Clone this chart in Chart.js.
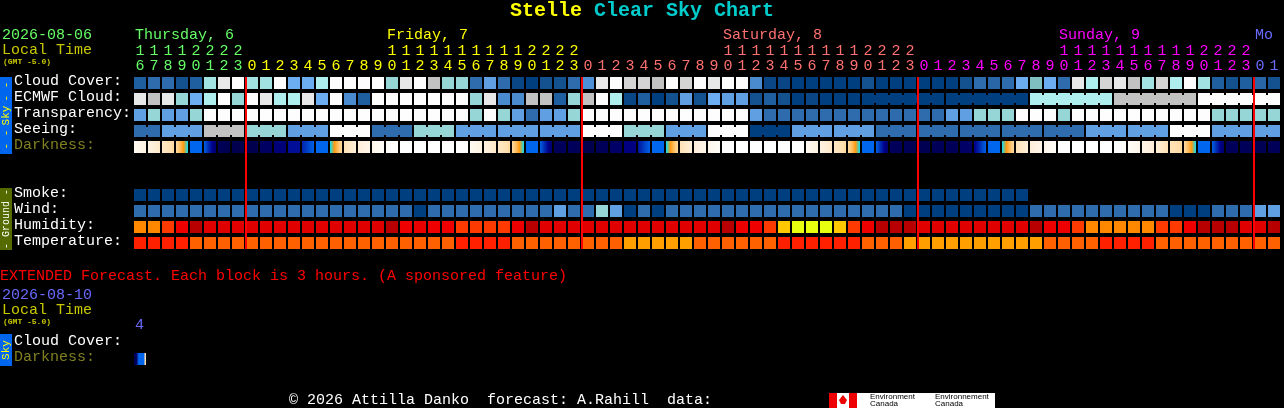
<!DOCTYPE html>
<html>
<head>
<meta charset="utf-8">
<title>Stelle Clear Sky Chart</title>
<script src="https://cdn.jsdelivr.net/npm/chart.js@4"></script>
<style>
  html, body { margin: 0; padding: 0; background: #000; }
  canvas { display: block; }
</style>
</head>
<body>
<canvas id="csc" width="1284" height="408"></canvas>
<script>
// hours shown, one block per hour starting Thursday 16:00
var hours = [16,17,18,19,20,21,22,23,
  0,1,2,3,4,5,6,7,8,9,10,11,12,13,14,15,16,17,18,19,20,21,22,23,
  0,1,2,3,4,5,6,7,8,9,10,11,12,13,14,15,16,17,18,19,20,21,22,23,
  0,1,2,3,4,5,6,7,8,9,10,11,12,13,14,15,16,17,18,19,20,21,22,23,
  0,1];
var midnights = [8, 32, 56, 80];
var dayNames = ['Thursday, 6', 'Friday, 7', 'Saturday, 8', 'Sunday, 9', 'Mo'];
var dayLabelCols = [0, 18, 42, 66, 80];

var rowNames = ['Cloud Cover:', 'ECMWF Cloud:', 'Transparency:', 'Seeing:', 'Darkness:',
  'Smoke:', 'Wind:', 'Humidity:', 'Temperature:', 'Cloud Cover:', 'Darkness:'];
var rowSlots = [0, 1, 2, 3, 4, 7, 8, 9, 10, 16.25, 17.25];

var cloudCover = [20,30,30,10,20,75,90,100, 75,75,100,60,60,80,100,100,
  100,100,70,90,100,85,70,70, 30,50,30,5,0,10,10,30,
  45,90,100,88,88,85,100,88, 100,90,100,100,40,5,5,0,
  0,0,0,0,10,0,0,0, 0,0,0,10,30,25,30,60,
  65,60,30,90,80,88,90,85, 75,88,80,100,75,20,10,20, 25,10];
var ecmwfCloud = [90,85,90,70,60,80,100,70, 100,90,80,80,90,60,100,40,
  20,100,100,100,100,100,100,100, 70,90,40,40,85,85,20,70,
  85,100,80,5,20,0,10,50, 10,60,50,50,10,20,10,0,
  5,0,0,0,0,0,0,0, 0,0,0,0,0,0,0,0,
  80,80,80,80,80,80,85,85, 85,85,85,85,100,100,100,100, 100,100];
var ecmwfBlocks = [52, 58, 64, 70, 76, 82];
var transparency = [50,70,50,50,70,100,100,100, 100,100,100,100,100,100,100,100,
  100,100,100,100,100,100,100,100, 70,100,70,50,30,50,50,70,
  100,100,100,100,100,100,100,100, 100,100,100,100,50,30,30,30,
  30,30,30,30,30,30,30,30, 30,30,50,50,70,70,70,100,
  100,100,70,100,100,100,100,100, 100,100,100,100,100,70,70,70, 70,70];
var seeing = [30,30,50,50,50,85,85,85, 70,70,70,50,50,50,100,100,
  100,30,30,30,70,70,70,50, 50,50,50,50,50,50,50,50,
  100,100,100,70,70,70,50,50, 50,100,100,100,0,0,0,50,
  50,50,50,50,50,30,30,30, 30,30,30,30,30,30,30,30,
  30,30,30,30,50,50,50,50, 50,50,100,100,100,50,50,50, 50,50];
var seeingBlocks = [0,2,5,8,11,14,17,20,23,26,29,32,35,38,41,44,47,50,53,56,59,62,65,68,71,74,77,80,82];
var darknessFrom = [-3.6,-3.2,-2.8,-2.4,0,0.3,5,5.5, 5.6,4.6,3.6,2.6,2,0,-1,-2.6,
  -3,-3.4,-3.8,-4,-4,-4,-4,-4, -3.6,-3.2,-2.8,-2.4,0,0.3,5,4.8,
  5.6,5,4.4,3.4,2.4,0,-1,-2.6, -3,-3.4,-4,-4,-4,-4,-4,-4,
  -3.6,-3.2,-2.8,-2.4,0,0.3,4.8,5, 5.4,5,5,4.4,3.2,0,-1,-2.6,
  -3,-3.4,-4,-4,-4,-4,-4,-3.8, -3.4,-3.0,-2.6,-2.4,0,0.3,5,4.8, 5.2,5];
var darknessTo = [-3.2,-2.8,-2.4,-1,0,4.2,5.5,5.6, 5.6,4.6,3.6,2.6,0.2,0,-2.4,-3,
  -3.4,-3.8,-4,-4,-4,-4,-4,-4, -3.2,-2.8,-2.4,-1,0,4.2,4.8,5,
  5.6,5,4.4,3.4,0.2,0,-2.4,-3, -3.4,-3.8,-4,-4,-4,-4,-4,-4,
  -3.2,-2.8,-2.4,-1,0,4.2,5,5.4, 5.4,5,5,4.4,0.2,0,-2.4,-3,
  -3.4,-3.8,-4,-4,-4,-4,-3.8,-3.4, -3.0,-2.6,-2.4,-1,0,4.2,4.8,5.2, 5.2,5];
var smoke = [0,0,0,0,0,0,0,0, 0,0,0,0,0,0,0,0, 0,0,0,0,0,0,0,0, 0,0,0,0,0,0,0,0,
  0,0,0,0,0,0,0,0, 0,0,0,0,0,0,0,0, 0,0,0,0,0,0,0,0, 0,0,0,0,0,0,0,0];
var wind = [30,30,30,30,30,30,30,30, 30,30,30,30,30,30,30,30,
  30,30,30,30,0,30,30,30, 30,30,30,30,30,30,50,30,
  30,70,50,0,30,0,30,30, 30,30,30,30,30,30,30,30,
  30,30,30,30,30,30,30,0, 0,0,0,0,0,0,0,0,
  30,30,30,30,30,30,30,30, 30,30,0,0,0,30,30,30, 50,50];
var humidity = [60,60,65,70,90,80,80,80, 80,80,80,80,80,80,80,80,
  80,80,90,70,75,70,70,65, 65,65,65,70,90,80,80,80,
  80,80,80,80,80,80,80,80, 80,80,90,70,70,65,50,45,
  45,45,50,65,70,90,90,90, 80,80,80,80,80,80,80,80,
  90,70,70,65,60,60,60,60, 60,65,65,70,90,90,90,80, 80,90];
var temperature = [31,31,31,31,27,27,27,27, 27,27,27,27,27,27,27,27,
  27,27,27,27,27,27,27,31, 31,31,31,27,27,27,27,27,
  27,27,27,24,24,24,24,24, 27,27,27,27,27,27,31,31,
  31,31,31,31,27,27,27,24, 24,24,24,24,24,24,24,24,
  24,27,27,27,27,31,31,31, 31,27,27,27,27,27,27,27, 27,27];
// the single 3 hour block of the extended forecast, read across the block
var extendedDarkness = [5, 5, 5, 4.5, 0.5, 0, 0, 0, 0, 0, 0, -2.5, -2.5];

// colour tables of the chart legend
var skyColors = {0:'#003f7f',5:'#0a4686',10:'#13528f',20:'#1f5f9f',25:'#2866a8',30:'#2e6cae',40:'#4a8bd0',45:'#4e90d8',
  50:'#5f9fe2',60:'#6cacf0',65:'#80c0c0',70:'#96d6d6',75:'#a2e2e2',80:'#aeeeee',85:'#c2c2c2',88:'#d4d4d4',90:'#e8e8e8',100:'#fdfdfd'};
var humidityColors = {45:'#e8ff10',50:'#ffc800',60:'#ff8800',65:'#ff3a00',70:'#ee0000',75:'#e80000',80:'#e00000',90:'#b80000'};
var temperatureColors = {24:'#ffa000',27:'#ff6000',31:'#ff2000'};
var darknessRamp = [[-4,255,255,255],[-3.5,255,248,238],[-3,255,238,216],[-2.5,255,223,174],[-2,255,196,108],
  [-1.5,255,154,16],[-1,0,224,255],[0,0,102,238],[1,0,72,204],[2,0,34,170],[3,0,0,140],[4,0,0,112],[5,0,0,88],[6,0,0,72]];

var dayColors = ['#66ff66', '#ffff00', '#ff7070', '#ff00ff', '#6a6aff'];
var MONO = '"Liberation Mono", monospace';

function rowBars(values, slot) {
  return values.map(function (v) { return [slot - 0.375, slot + 0.375]; });
}
function tableRow(values, table, slot) {
  return { data: rowBars(values, slot), backgroundColor: values.map(function (v) { return table[v]; }) };
}
function rampColor(v) {
  for (var i = 1; i < darknessRamp.length; i++) {
    if (v <= darknessRamp[i][0]) {
      var a = darknessRamp[i - 1], b = darknessRamp[i], t = (v - a[0]) / (b[0] - a[0]);
      return 'rgb(' + [1, 2, 3].map(function (k) { return Math.round(a[k] + (b[k] - a[k]) * t); }).join(',') + ')';
    }
  }
  return 'rgb(0,0,72)';
}
// cellValues(i) gives the darkness values read across block i
function darkRow(count, cellValues, slot) {
  return {
    data: rowBars(new Array(count).fill(0), slot),
    backgroundColor: function (c) {
      var chart = c.chart, i = c.dataIndex;
      if (!chart.chartArea) return '#000';
      var x = chart.scales.x.getPixelForValue(i);
      var g = chart.ctx.createLinearGradient(x - 6, 0, x + 6, 0);
      var vals = cellValues(i);
      vals.forEach(function (v, s) { g.addColorStop(s / (vals.length - 1), rampColor(v)); });
      return g;
    }
  };
}
function hourlyDarkness(i) {
  var vals = [];
  for (var s = 0; s <= 8; s++) vals.push(darknessFrom[i] + (darknessTo[i] - darknessFrom[i]) * s / 8);
  return vals;
}
function dayIndex(col) {
  var d = 0;
  midnights.forEach(function (m, k) { if (col >= m) d = k + 1; });
  return d;
}

var cscPlugin = {
  id: 'csc',
  afterDatasetsDraw: function (chart) {
    var ctx = chart.ctx, xs = chart.scales.x, ys = chart.scales.y;
    ctx.save();
    // joined blocks: forecast values that span several hours
    function bridges(values, blocks, slot) {
      for (var b = 0; b < blocks.length - 1; b++) {
        for (var i = blocks[b]; i < blocks[b + 1] - 1; i++) {
          ctx.fillStyle = skyColors[values[i]];
          var top = ys.getPixelForValue(slot - 0.25);
          ctx.fillRect(xs.getPixelForValue(i) + 6, top, 2, ys.getPixelForValue(slot + 0.25) - top);
        }
      }
    }
    bridges(ecmwfCloud, ecmwfBlocks, 1);
    bridges(seeing, seeingBlocks, 3);
    // midnight lines
    ctx.fillStyle = '#ff0000';
    midnights.forEach(function (m) {
      var top = ys.getPixelForValue(-0.375);
      ctx.fillRect(xs.getPixelForValue(m) - 7, top, 2, ys.getPixelForValue(10.375) - top);
    });
    ctx.restore();
  },
  afterDraw: function (chart) {
    var ctx = chart.ctx, xs = chart.scales.x;
    function text(s, x, y, color, font) {
      ctx.font = font || ('15px ' + MONO);
      ctx.fillStyle = color;
      ctx.fillText(s, x, y);
    }
    function sideBar(top, bottom, color, textColor, label, size, dashes, dashOffset) {
      ctx.fillStyle = color;
      ctx.fillRect(0, top, 12, bottom - top);
      ctx.save();
      ctx.translate(6, (top + bottom) / 2);
      ctx.rotate(-Math.PI / 2);
      ctx.textAlign = 'center';
      text(label, 0, 0, textColor, size + 'px ' + MONO);
      if (dashes) {
        [-1, 1].forEach(function (side) {
          text(dashes, side * dashOffset, 0, textColor, size + 'px ' + MONO);
        });
      }
      ctx.restore();
    }
    ctx.save();
    ctx.textBaseline = 'middle';
    ctx.textAlign = 'left';
    var titleFont = 'bold 20px ' + MONO;
    text('Stelle', 510, 11, '#ffff00', titleFont);
    text('Clear Sky Chart', 594, 11, '#00cccc', titleFont);
    text('2026-08-06', 2, 35, dayColors[0]);
    text('Local Time', 2, 50, '#c8c800');
    text('(GMT -5.0)', 3, 62, '#c8c800', 'bold 8px ' + MONO);
    dayNames.forEach(function (name, k) {
      text(name, xs.getPixelForValue(dayLabelCols[k]) - 5, 35, dayColors[k]);
    });
    text('EXTENDED Forecast. Each block is 3 hours. (A sponsored feature)', 0, 276, '#ff0000');
    text('2026-08-10', 2, 295, dayColors[4]);
    text('Local Time', 2, 310, '#c8c800');
    text('(GMT -5.0)', 3, 322, '#c8c800', 'bold 8px ' + MONO);
    text('4', xs.getPixelForValue(0) - 5, 325, dayColors[4]);
    sideBar(77, 154, '#0066ee', '#ffff00', 'Sky', 11, '- -', 24);
    sideBar(188, 250, '#556b00', '#ffffff', 'Ground', 10, '-', 27);
    sideBar(334, 366, '#0066ee', '#ffff00', 'Sky', 11);
    text('\u00a9 2026 Attilla Danko  forecast: A.Rahill  data:', 289, 400, '#ffffff');
    // Environment Canada logo
    ctx.fillStyle = '#ffffff';
    ctx.fillRect(829, 393, 166, 15);
    ctx.fillStyle = '#ee0000';
    ctx.fillRect(829, 393, 8, 15);
    ctx.fillRect(849, 393, 8, 15);
    ctx.beginPath();
    ctx.moveTo(843, 395); ctx.lineTo(847, 400); ctx.lineTo(845, 404); ctx.lineTo(841, 404); ctx.lineTo(839, 400);
    ctx.closePath();
    ctx.fill();
    ['Environment', 'Environnement'].forEach(function (s, k) {
      text(s, 870 + k * 65, 397, '#000000', '8px "Liberation Sans"');
    });
    ['Canada', 'Canada'].forEach(function (s, k) {
      text(s, 870 + k * 65, 404, '#000000', '8px "Liberation Sans"');
    });
    ctx.restore();
  }
};

var chart = new Chart(document.getElementById('csc').getContext('2d'), {
  type: 'bar',
  data: {
    labels: hours,
    datasets: [
      tableRow(cloudCover, skyColors, 0),
      tableRow(ecmwfCloud, skyColors, 1),
      tableRow(transparency, skyColors, 2),
      tableRow(seeing, skyColors, 3),
      darkRow(hours.length, hourlyDarkness, 4),
      tableRow(smoke, skyColors, 7),
      tableRow(wind, skyColors, 8),
      tableRow(humidity, humidityColors, 9),
      tableRow(temperature, temperatureColors, 10),
      darkRow(1, function () { return extendedDarkness; }, 17.25)
    ]
  },
  plugins: [cscPlugin],
  options: {
    responsive: false,
    animation: false,
    events: [],
    layout: { padding: { left: 14, right: 3, top: 0, bottom: 0 } },
    datasets: { bar: { grouped: false, barPercentage: 12 / 14, categoryPercentage: 1, inflateAmount: 0 } },
    plugins: { legend: { display: false }, tooltip: { enabled: false }, title: { display: false } },
    scales: {
      x: {
        position: 'top',
        offset: true,
        grid: { display: false, drawTicks: false },
        border: { display: false },
        afterFit: function (scale) { scale.height = 76; },
        ticks: {
          autoSkip: false,
          maxRotation: 0,
          padding: 2,
          font: { family: MONO, size: 15, lineHeight: 1 },
          color: function (c) { return dayColors[dayIndex(c.index)]; },
          callback: function (v, i) {
            var h = hours[i];
            return [h >= 10 ? String(Math.floor(h / 10)) : ' ', String(h % 10)];
          }
        }
      },
      y: {
        reverse: true,
        min: -0.4375,
        max: 20.3125,
        grid: { display: false, drawTicks: false },
        border: { display: false },
        afterFit: function (scale) {
          scale.width = 119;
          scale.paddingTop = 0;
          scale.paddingBottom = 0;
        },
        afterBuildTicks: function (scale) {
          // row names sit a little above the middle of their blocks
          scale.ticks = rowSlots.map(function (s) { return { value: s - 0.1 }; });
        },
        ticks: {
          autoSkip: false,
          crossAlign: 'far',
          padding: 0,
          font: { family: MONO, size: 15 },
          color: function (c) { return rowNames[c.index] === 'Darkness:' ? '#808020' : '#ffffff'; },
          callback: function (v, i) { return rowNames[i]; }
        }
      }
    }
  }
});
</script>
</body>
</html>
